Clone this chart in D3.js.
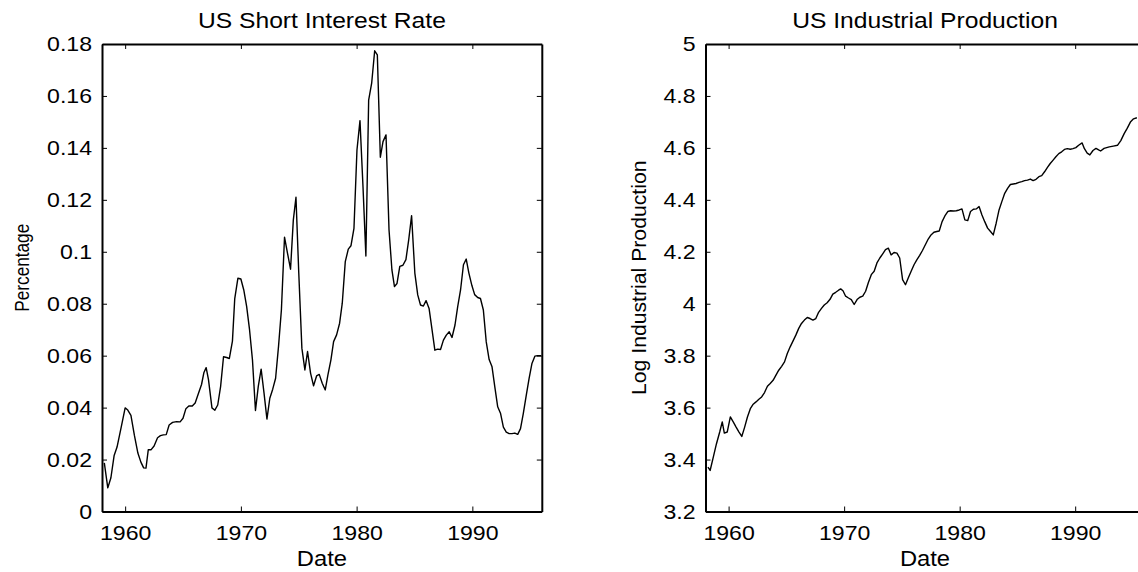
<!DOCTYPE html>
<html>
<head>
<script src="https://d3js.org/d3.v7.min.js"></script>
<style>
    body { margin: 0; background: #fff; }
    text { font-family: "Liberation Sans", Arial, sans-serif; fill: #000; }
</style>
</head>
<body>
<script>
// US short interest rate (date, value)
var rateDates = [1958.2, 1958.5, 1958.77, 1959.05, 1959.3, 1959.66, 1960.0, 1960.2, 1960.5, 1960.8,
    1961.1, 1961.36, 1961.6, 1961.8, 1962.0, 1962.25, 1962.5, 1962.8, 1963.05, 1963.3,
    1963.55, 1963.8, 1964.1, 1964.44, 1964.75, 1965.0, 1965.25, 1965.5, 1965.8, 1966.05,
    1966.33, 1966.6, 1966.8, 1967.0, 1967.2, 1967.5, 1967.75, 1968.0, 1968.25, 1968.5,
    1968.77, 1969.0, 1969.27, 1969.47, 1969.74, 1970.0, 1970.25, 1970.5, 1970.75, 1971.0,
    1971.26, 1971.5, 1971.75, 1972.0, 1972.25, 1972.5, 1972.75, 1973.0, 1973.25, 1973.5,
    1973.77, 1974.03, 1974.29, 1974.53, 1974.76, 1975.0, 1975.27, 1975.53, 1975.76, 1976.02,
    1976.28, 1976.54, 1976.77, 1977.03, 1977.29, 1977.52, 1977.78, 1978.01, 1978.27, 1978.53,
    1978.76, 1979.02, 1979.28, 1979.51, 1979.77, 1980.03, 1980.29, 1980.55, 1980.8, 1981.04,
    1981.3, 1981.56, 1981.79, 1982.05, 1982.28, 1982.54, 1982.8, 1983.05, 1983.27, 1983.49,
    1983.73, 1984.0, 1984.26, 1984.5, 1984.75, 1985.03, 1985.28, 1985.52, 1985.77, 1986.0,
    1986.26, 1986.5, 1986.76, 1987.0, 1987.25, 1987.5, 1987.75, 1988.0, 1988.24, 1988.5,
    1988.73, 1988.98, 1989.23, 1989.47, 1989.7, 1989.96, 1990.2, 1990.46, 1990.7, 1990.95,
    1991.2, 1991.45, 1991.7, 1991.94, 1992.19, 1992.44, 1992.68, 1992.93, 1993.18, 1993.42,
    1993.67, 1993.92, 1994.16, 1994.4, 1994.66, 1994.9, 1995.15, 1995.4, 1995.64, 1995.95];
var rateValues = [0.0187, 0.0091, 0.013, 0.0216, 0.0248, 0.0325, 0.0399, 0.0392, 0.037, 0.0293,
    0.0225, 0.019, 0.0168, 0.0167, 0.0238, 0.0238, 0.0252, 0.0284, 0.0292, 0.0295,
    0.0296, 0.0333, 0.0343, 0.0346, 0.0345, 0.0359, 0.0396, 0.0406, 0.0406, 0.0418,
    0.0454, 0.0489, 0.0534, 0.0554, 0.0508, 0.0399, 0.039, 0.041, 0.0482, 0.0596,
    0.0593, 0.0589, 0.0656, 0.082, 0.0898, 0.0895, 0.0853, 0.0789, 0.0699, 0.0584,
    0.0389, 0.0481, 0.0548, 0.0456, 0.0356, 0.0436, 0.0471, 0.0513, 0.0635, 0.0776,
    0.1056, 0.0994, 0.0933, 0.1122, 0.121, 0.092, 0.0629, 0.0545, 0.0616, 0.0533,
    0.0484, 0.0522, 0.0528, 0.0494, 0.0468, 0.0526, 0.0584, 0.0654, 0.068, 0.0725,
    0.0802, 0.0962, 0.101, 0.1023, 0.109, 0.1392, 0.1505, 0.1251, 0.0984, 0.1584,
    0.1649, 0.1774, 0.1758, 0.1364, 0.1424, 0.145, 0.1084, 0.093, 0.0866, 0.0878,
    0.0944, 0.0948, 0.097, 0.1046, 0.1139, 0.0918, 0.0834, 0.0795, 0.0791, 0.0812,
    0.0782, 0.0705, 0.0621, 0.0625, 0.0624, 0.066, 0.0679, 0.0692, 0.067, 0.0718,
    0.0788, 0.0853, 0.095, 0.0972, 0.0918, 0.087, 0.0835, 0.0824, 0.082, 0.0776,
    0.0653, 0.0585, 0.0557, 0.048, 0.0403, 0.0377, 0.0325, 0.0306, 0.03, 0.03,
    0.0302, 0.0297, 0.0319, 0.0377, 0.0448, 0.0512, 0.057, 0.0598, 0.06, 0.06];

// US log industrial production (date, value)
var ipDates = [1958.21, 1958.4, 1958.68, 1958.95, 1959.23, 1959.45, 1959.63, 1959.88, 1960.15, 1960.4,
    1960.65, 1960.9, 1961.14, 1961.39, 1961.63, 1961.88, 1962.13, 1962.37, 1962.62, 1962.86,
    1963.11, 1963.36, 1963.6, 1963.85, 1964.1, 1964.34, 1964.59, 1964.84, 1965.08, 1965.33,
    1965.57, 1965.82, 1966.07, 1966.31, 1966.56, 1966.81, 1967.05, 1967.3, 1967.55, 1967.79,
    1968.04, 1968.28, 1968.53, 1968.78, 1969.02, 1969.27, 1969.52, 1969.7, 1969.9, 1970.13,
    1970.38, 1970.62, 1970.87, 1971.12, 1971.36, 1971.61, 1971.86, 1972.1, 1972.35, 1972.6,
    1972.84, 1973.09, 1973.34, 1973.58, 1973.83, 1974.07, 1974.32, 1974.57, 1974.81, 1975.06,
    1975.31, 1975.55, 1975.8, 1976.05, 1976.29, 1976.54, 1976.78, 1977.03, 1977.28, 1977.52,
    1977.77, 1978.02, 1978.23, 1978.48, 1978.72, 1978.97, 1979.22, 1979.46, 1979.71, 1979.96,
    1980.2, 1980.45, 1980.7, 1980.94, 1981.19, 1981.44, 1981.68, 1981.93, 1982.17, 1982.42,
    1982.67, 1982.91, 1983.16, 1983.41, 1983.65, 1983.9, 1984.15, 1984.39, 1984.64, 1984.88,
    1985.13, 1985.38, 1985.62, 1985.87, 1986.12, 1986.36, 1986.61, 1986.86, 1987.1, 1987.35,
    1987.6, 1987.84, 1988.09, 1988.33, 1988.58, 1988.83, 1989.07, 1989.32, 1989.57, 1989.81,
    1990.06, 1990.3, 1990.6, 1990.8, 1991.04, 1991.27, 1991.54, 1991.8, 1992.03, 1992.2,
    1992.5, 1992.95, 1993.3, 1993.66, 1993.95, 1994.24, 1994.5, 1994.8, 1995.05, 1995.34];
var ipValues = [3.371, 3.358, 3.41, 3.461, 3.506, 3.545, 3.502, 3.506, 3.564, 3.545,
    3.525, 3.506, 3.489, 3.525, 3.564, 3.596, 3.613, 3.622, 3.632, 3.641,
    3.658, 3.682, 3.693, 3.705, 3.725, 3.744, 3.759, 3.776, 3.808, 3.834,
    3.856, 3.879, 3.905, 3.924, 3.937, 3.947, 3.943, 3.937, 3.943, 3.967,
    3.982, 3.995, 4.004, 4.017, 4.037, 4.044, 4.052, 4.057, 4.05, 4.029,
    4.022, 4.016, 3.997, 4.016, 4.025, 4.029, 4.048, 4.082, 4.112, 4.125,
    4.157, 4.176, 4.192, 4.208, 4.214, 4.188, 4.197, 4.195, 4.176, 4.093,
    4.073, 4.099, 4.125, 4.15, 4.169, 4.186, 4.205, 4.227, 4.249, 4.265,
    4.275, 4.278, 4.28, 4.316, 4.338, 4.355, 4.358, 4.357, 4.358, 4.361,
    4.365, 4.323, 4.32, 4.355, 4.364, 4.365, 4.374, 4.342, 4.316, 4.291,
    4.278, 4.265, 4.31, 4.361, 4.393, 4.425, 4.444, 4.459, 4.461, 4.463,
    4.467, 4.47, 4.474, 4.476, 4.48, 4.474, 4.479, 4.489, 4.493, 4.508,
    4.525, 4.54, 4.553, 4.566, 4.578, 4.585, 4.594, 4.597, 4.595, 4.597,
    4.601, 4.61, 4.619, 4.597, 4.58, 4.573, 4.59, 4.598, 4.592, 4.588,
    4.598, 4.604, 4.607, 4.61, 4.628, 4.655, 4.675, 4.701, 4.712, 4.716];

var yearTicks = [1960, 1970, 1980, 1990];
var rateTicks = [0, 0.02, 0.04, 0.06, 0.08, 0.1, 0.12, 0.14, 0.16, 0.18];
var rateTickLabels = ["0", "0.02", "0.04", "0.06", "0.08", "0.1", "0.12", "0.14", "0.16", "0.18"];
var ipTicks = [3.2, 3.4, 3.6, 3.8, 4, 4.2, 4.4, 4.6, 4.8, 5];
var ipTickLabels = ["3.2", "3.4", "3.6", "3.8", "4", "4.2", "4.4", "4.6", "4.8", "5"];

var svg = d3.select("body").append("svg")
    .attr("width", 1138)
    .attr("height", 572);

var plotTop = 44, plotBottom = 511.5;

// the original figure's lettering is a little wider than normal
function widen(sel, k) {
    sel.each(function() {
        var w = this.getComputedTextLength();
        d3.select(this).attr("textLength", w * k).attr("lengthAdjust", "spacingAndGlyphs");
    });
}

function panel(left, right, yDomain, dates, values, ticks, tickLabels, title, yLabel, yLabelX, yLabelFit, yLabelShift) {
    var x = d3.scaleLinear().domain([1958, 1996]).range([left, right]);
    var y = d3.scaleLinear().domain(yDomain).range([plotBottom, plotTop]);
    var g = svg.append("g");

    var tickFmt = function(d, i) { return tickLabels[i]; };

    // bottom / left axes carry labels, top / right only inside ticks
    g.append("g").attr("transform", "translate(0," + plotBottom + ")")
        .call(d3.axisBottom(x).tickValues(yearTicks).tickFormat(d3.format("d")).tickSizeInner(-5).tickSizeOuter(0).tickPadding(13.5));
    g.append("g").attr("transform", "translate(0," + plotTop + ")")
        .call(d3.axisTop(x).tickValues(yearTicks).tickFormat("").tickSizeInner(-5).tickSizeOuter(0));
    g.append("g").attr("transform", "translate(" + left + ",0)")
        .call(d3.axisLeft(y).tickValues(ticks).tickFormat(tickFmt).tickSizeInner(-5).tickSizeOuter(0).tickPadding(10));
    g.append("g").attr("transform", "translate(" + right + ",0)")
        .call(d3.axisRight(y).tickValues(ticks).tickFormat("").tickSizeInner(-5).tickSizeOuter(0));

    g.selectAll(".domain").attr("stroke", "#000").attr("stroke-width", 2);
    g.selectAll(".tick line").attr("stroke", "#000").attr("stroke-width", 1);
    var tickText = g.selectAll(".tick text").style("font-size", "21px")
        .style("font-family", "'Liberation Sans', Arial, sans-serif").attr("fill", "#000");
    widen(tickText, 1.1);

    var line = d3.line()
        .x(function(d) { return x(d[0]); })
        .y(function(d) { return y(d[1]); });

    g.append("path")
        .datum(d3.zip(dates, values))
        .attr("fill", "none")
        .attr("stroke", "#000")
        .attr("stroke-width", 1.4)
        .attr("stroke-linejoin", "round")
        .attr("d", line);

    var t = g.append("text")
        .attr("x", (left + right) / 2)
        .attr("y", 28)
        .attr("text-anchor", "middle")
        .style("font-size", "22px")
        .text(title);
    widen(t, 1.12);

    var dl = g.append("text")
        .attr("x", (left + right) / 2)
        .attr("y", 566)
        .attr("text-anchor", "middle")
        .style("font-size", "22px")
        .text("Date");
    widen(dl, 1.08);

    g.append("text")
        .attr("transform", "translate(" + yLabelX + "," + ((plotTop + plotBottom) / 2 + yLabelShift) + ") rotate(-90)")
        .attr("text-anchor", "middle")
        .style("font-size", "20px")
        .text(yLabel)
        .call(widen, yLabelFit);
}

panel(102, 541.8, [0, 0.18], rateDates, rateValues, rateTicks, rateTickLabels,
    "US Short Interest Rate", "Percentage", 29, 0.86, -10);
panel(705.5, 1144.5, [3.2, 5], ipDates, ipValues, ipTicks, ipTickLabels,
    "US Industrial Production", "Log Industrial Production", 646, 1.06, 0);
</script>
</body>
</html>
